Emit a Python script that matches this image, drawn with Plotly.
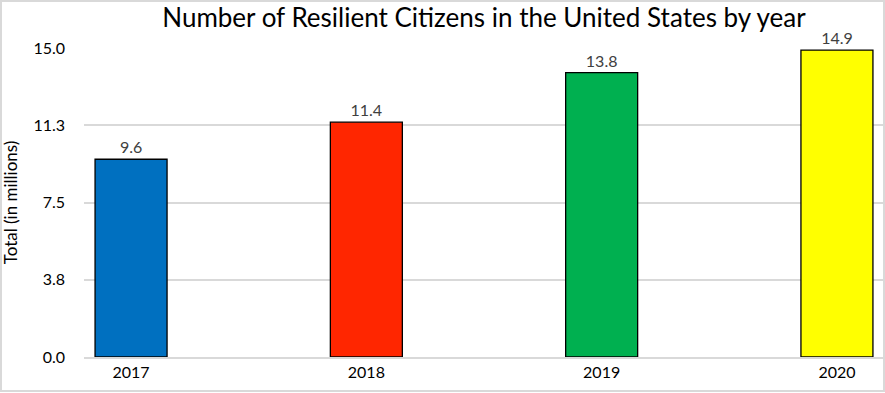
import plotly.graph_objects as go

years = ["2017", "2018", "2019", "2020"]
values = [9.6, 11.4, 13.8, 14.9]
colors = ["#0070C0", "#FF2600", "#00B050", "#FFFF00"]
tick_vals = [0, 3.75, 7.5, 11.25, 15]
tick_text = ["0.0", "3.8", "7.5", "11.3", "15.0"]

FONT = "Lato, Carlito, Calibri, sans-serif"

fig = go.Figure(go.Bar(
    x=years, y=values,
    marker=dict(color=colors, line=dict(color="#000000", width=1.3)),
    width=0.306,
    text=[f"{v:.1f}" for v in values],
    textposition="outside",
    textfont=dict(family=FONT, size=16, color="#404040"),
    cliponaxis=False,
))

fig.update_layout(
    width=885, height=393,
    margin=dict(l=84, r=1, t=48, b=36),
    paper_bgcolor="white", plot_bgcolor="white",
    title=dict(text="Number of Resilient Citizens in the United States by year",
               xref="paper", x=0.5, xanchor="center", y=0.955, yanchor="middle",
               font=dict(family=FONT, size=26, color="#000000")),
    showlegend=False,
    font=dict(family=FONT),
    xaxis=dict(type="category", range=[-0.2, 3.2], showgrid=False,
               showline=True, linecolor="#d9d9d9", linewidth=1.5,
               ticks="", tickfont=dict(family=FONT, size=16, color="#000000")),
    yaxis=dict(range=[0, 15], tickvals=tick_vals, ticktext=tick_text,
               showgrid=True, gridcolor="#d9d9d9", gridwidth=1.5,
               zeroline=False, showline=False, ticks="",
               ticklabelstandoff=18,
               tickfont=dict(family=FONT, size=16, color="#000000"),
               title=dict(text="Total (in millions)", standoff=12,
                          font=dict(family=FONT, size=17, color="#000000"))),
    shapes=[dict(type="rect", xref="paper", yref="paper",
                 x0=-83/800, x1=1.0, y0=-34/309, y1=1+47/309,
                 line=dict(color="#d9d9d9", width=2), layer="below")],
)

fig.write_html("out.html", config={"displayModeBar": False},
               post_script="document.body.style.margin='0';")
